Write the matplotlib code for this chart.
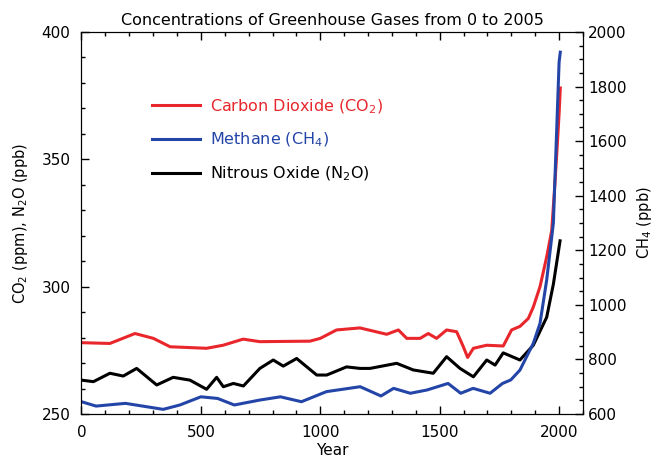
import matplotlib.pyplot as plt
from matplotlib.ticker import MultipleLocator

# CO2 (ppm), left axis
co2_year = [0, 119, 224, 301, 371, 524, 593, 677, 747, 957, 1000, 1068, 1166, 1278, 1327,
            1362, 1418, 1452, 1487, 1529, 1571, 1599, 1617, 1641, 1697, 1766, 1801, 1836,
            1871, 1892, 1920, 1948, 1969, 1980, 1990, 2000, 2005]
co2_val = [278.0, 277.7, 281.6, 279.7, 276.4, 275.8, 277.0, 279.4, 278.4, 278.6, 279.7, 283.0,
           283.8, 281.3, 283.0, 279.7, 279.7, 281.6, 279.7, 283.0, 282.3, 276.4, 272.2, 275.8,
           277.0, 276.7, 283.0, 284.4, 287.5, 292.0, 300.0, 311.7, 322.0, 337.0, 352.0,
           368.0, 378.0]

# CH4 (ppb), right axis
ch4_year = [0, 61, 184, 342, 412, 500, 570, 640, 746, 833, 921, 1026, 1167, 1254, 1307, 1377,
            1447, 1535, 1588, 1640, 1711, 1763, 1798, 1836, 1892, 1920, 1948, 1976, 2000, 2005]
ch4_val = [645, 629, 639, 617, 633, 663, 657, 633, 651, 663, 645, 682, 700, 666, 694, 676,
           688, 712, 676, 694, 676, 712, 725, 761, 859, 932, 1091, 1300, 1890, 1926]

# N2O (ppb), left axis
n2o_year = [0, 50, 119, 175, 231, 315, 384, 454, 524, 566, 594, 636, 678, 747, 803, 845, 901,
            985, 1027, 1110, 1166, 1208, 1320, 1389, 1473, 1529, 1585, 1641, 1697, 1732, 1766,
            1836, 1892, 1948, 1976, 2004]
n2o_val = [263.3, 262.7, 266.0, 264.9, 267.9, 261.4, 264.4, 263.3, 259.7, 264.4, 260.7, 262.0,
           261.0, 267.9, 271.2, 268.8, 271.8, 265.3, 265.3, 268.5, 267.9, 267.9, 269.9, 267.3,
           266.0, 272.5, 267.9, 264.6, 271.2, 269.2, 274.0, 271.2, 277.0, 288.0, 301.0, 318.0]

red = '#e8262b'
blue = '#2445a8'

fig = plt.figure(figsize=(6.56, 4.57), dpi=100)
ax = fig.add_axes([0.1242, 0.0941, 0.7645, 0.8359])
ax2 = ax.twinx()

l1, = ax.plot(co2_year, co2_val, color=red, lw=2.2, label='Carbon Dioxide (CO$_2$)')
l3, = ax.plot(n2o_year, n2o_val, color='black', lw=2.2, label='Nitrous Oxide (N$_2$O)')
l2, = ax2.plot(ch4_year, ch4_val, color=blue, lw=2.2, label='Methane (CH$_4$)')

ax.set_xlim(0, 2100)
ax.set_ylim(250, 400)
ax2.set_ylim(600, 2000)

ax.xaxis.set_major_locator(MultipleLocator(500))
ax.xaxis.set_minor_locator(MultipleLocator(100))
ax.yaxis.set_major_locator(MultipleLocator(50))
ax.yaxis.set_minor_locator(MultipleLocator(10))
ax2.yaxis.set_major_locator(MultipleLocator(200))
ax2.yaxis.set_minor_locator(MultipleLocator(50))

ax.tick_params(axis='x', which='both', direction='in', top=True, labelsize=11, pad=8)
ax.tick_params(axis='y', which='both', direction='in', labelsize=11, pad=8)
ax2.tick_params(axis='y', which='both', direction='in', labelsize=11)
for a in (ax, ax2):
    a.tick_params(which='major', length=6, width=1)
    a.tick_params(which='minor', length=3, width=1)

ax.set_title('Concentrations of Greenhouse Gases from 0 to 2005', fontsize=11.5, pad=5)
ax.set_xlabel('Year', fontsize=11, labelpad=2)
ax.set_ylabel('CO$_2$ (ppm), N$_2$O (ppb)', fontsize=10.5, labelpad=8)
ax2.set_ylabel('CH$_4$ (ppb)', fontsize=10.5, rotation=90, labelpad=6)

ax.legend(handles=[l1, l2, l3], loc='upper left', bbox_to_anchor=(0.125, 0.85),
          frameon=False, fontsize=11.5, labelcolor='linecolor', handlelength=3.0,
          handletextpad=0.6, labelspacing=0.95, borderpad=0)

fig.savefig('out.png', dpi=100)
